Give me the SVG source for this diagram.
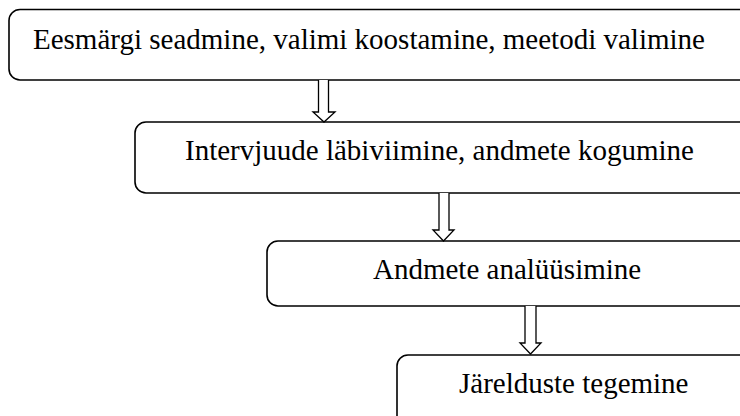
<svg xmlns="http://www.w3.org/2000/svg" width="740" height="416" viewBox="0 0 740 416">
<style>
.box{fill:#fff;stroke:#000;stroke-width:1.6}
.lbl{font-family:"Liberation Serif","Times New Roman",serif;font-size:29px;fill:#000}
.arr{fill:#fff;stroke:#000;stroke-width:1.3;stroke-linejoin:miter}
</style>
<rect width="740" height="416" fill="#fff"/>
<g id="n1"><rect class="box" x="9" y="9.5" width="760" height="70.5" rx="11"/><text class="lbl" x="33" y="49">Eesmärgi seadmine, valimi koostamine, meetodi valimine</text></g>
<g id="n2"><rect class="box" x="135" y="122" width="640" height="71" rx="11"/><text class="lbl" x="185" y="160">Intervjuude läbiviimine, andmete kogumine</text></g>
<g id="n3"><rect class="box" x="267" y="241" width="500" height="65" rx="11"/><text class="lbl" x="373" y="279">Andmete analüüsimine</text></g>
<g id="n4"><rect class="box" x="397" y="355" width="400" height="80" rx="11"/><text class="lbl" x="459" y="393">Järelduste tegemine</text></g>
<g id="connectors">
<path class="arr" d="M318.5 80 V112 H313 L324 122 L335 112 H328.5 V80"/>
<path class="arr" d="M439 193 V230 H433 L443.5 241 L454 230 H449 V193"/>
<path class="arr" d="M525 306 V343 H520 L530.5 354 L541 343 H536 V306"/>
</g>
</svg>
